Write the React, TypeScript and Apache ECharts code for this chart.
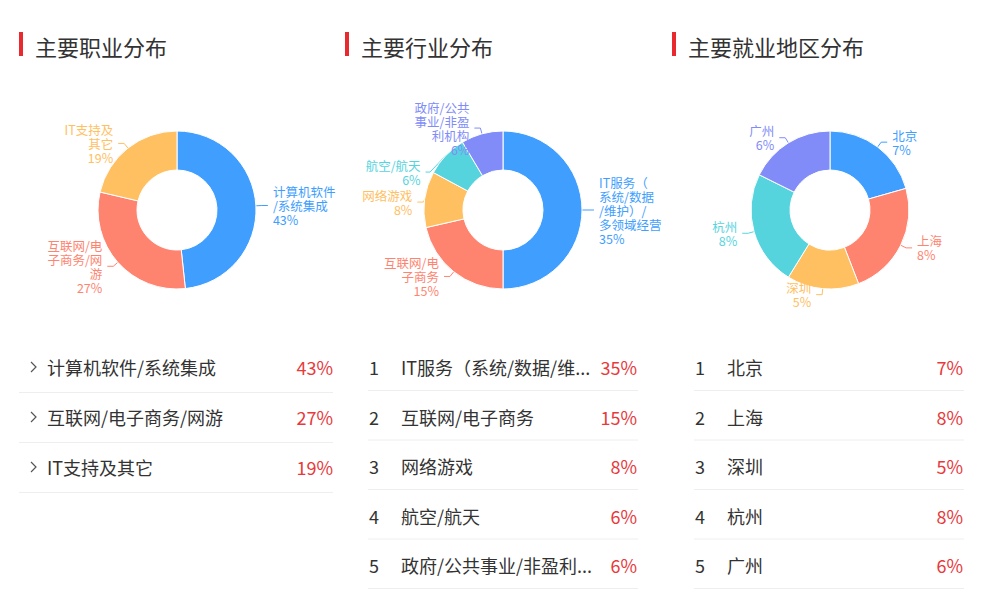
import React, { useEffect, useRef } from "react";
import * as echarts from "echarts";

const COLORS = ["#409EFF", "#FF8470", "#FFC062", "#56D4DE", "#818CF8"];
const FONT = "'Microsoft YaHei', 'Noto Sans CJK SC', sans-serif";

const titles = ["主要职业分布", "主要行业分布", "主要就业地区分布"];

const jobNames = ["计算机软件/系统集成", "互联网/电子商务/网游", "IT支持及其它"];
const jobValues = [43, 27, 19];

const industryNames = ["IT服务（系统/数据/维护）/多领域经营", "互联网/电子商务", "网络游戏", "航空/航天", "政府/公共事业/非盈利机构"];
const industryListLabels = ["IT服务（系统/数据/维...", "互联网/电子商务", "网络游戏", "航空/航天", "政府/公共事业/非盈利..."];
const industryValues = [35, 15, 8, 6, 6];

const cityNames = ["北京", "上海", "深圳", "杭州", "广州"];
const cityValues = [7, 8, 5, 8, 6];

const panelX = [19, 345, 672];
const pieCenters: [number, number][] = [[177, 210], [503, 210], [830, 210]];

function chunk5(s: string) {
  const chars = Array.from(s);
  const out: string[] = [];
  for (let i = 0; i < chars.length; i += 5) out.push(chars.slice(i, i + 5).join(""));
  return out.join("\n");
}

function pieSeries(names: string[], values: number[], center: [number, number]) {
  return {
    type: "pie",
    center,
    radius: [40, 79],
    startAngle: 90,
    clockwise: true,
    avoidLabelOverlap: true,
    itemStyle: { borderColor: "#fff", borderWidth: 1 },
    label: {
      show: true,
      formatter: (p: any) => chunk5(p.name) + "\n" + p.value + "%",
      fontSize: 12.5,
      lineHeight: 14,
      fontFamily: FONT,
    },
    labelLine: { show: true, length: 6, length2: 6, lineStyle: { width: 1 } },
    data: names.map((n, i) => ({
      name: n,
      value: values[i],
      itemStyle: { color: COLORS[i] },
      label: { color: COLORS[i] },
      labelLine: { lineStyle: { color: COLORS[i] } },
    })),
  };
}

function buildGraphics() {
  const g: any[] = [];
  titles.forEach((t, i) => {
    g.push({ type: "rect", shape: { x: panelX[i], y: 32, width: 4, height: 24 }, style: { fill: "#E8292D" } });
    g.push({
      type: "text",
      x: panelX[i] + 16,
      y: 46,
      style: { text: t, fontSize: 22, fill: "#333", fontFamily: FONT, verticalAlign: "middle", textAlign: "left" },
    });
  });

  const l1Left = 19, l1Right = 333;
  jobNames.forEach((n, i) => {
    const cy = 367 + i * 50;
    g.push({
      type: "polyline",
      shape: { points: [[31, cy - 5], [36, cy], [31, cy + 5]] },
      style: { stroke: "#555", lineWidth: 1.2, fill: "none" },
    });
    g.push({ type: "text", x: 47, y: cy, style: { text: n, fontSize: 18, fill: "#333", fontFamily: FONT, verticalAlign: "middle" } });
    g.push({ type: "text", x: l1Right, y: cy, style: { text: jobValues[i] + "%", fontSize: 18, fill: "#E8393C", fontFamily: FONT, verticalAlign: "middle", textAlign: "right" } });
    g.push({ type: "line", shape: { x1: l1Left, y1: cy + 25.5, x2: l1Right, y2: cy + 25.5 }, style: { stroke: "#EEEEEE", lineWidth: 1 } });
  });

  const lists: [number, number, string[], number[]][] = [
    [368, 637, industryListLabels, industryValues],
    [694, 963, cityNames, cityValues],
  ];
  lists.forEach(([left, right, names, vals]) => {
    names.forEach((n, i) => {
      const cy = 367 + i * 49.5;
      g.push({ type: "text", x: left + 1, y: cy, style: { text: String(i + 1), fontSize: 18, fill: "#333", fontFamily: FONT, verticalAlign: "middle" } });
      g.push({ type: "text", x: left + 33, y: cy, style: { text: n, fontSize: 18, fill: "#333", fontFamily: FONT, verticalAlign: "middle" } });
      g.push({ type: "text", x: right, y: cy, style: { text: vals[i] + "%", fontSize: 18, fill: "#E8393C", fontFamily: FONT, verticalAlign: "middle", textAlign: "right" } });
      g.push({ type: "line", shape: { x1: left, y1: cy + 23.5, x2: right + 1, y2: cy + 23.5 }, style: { stroke: "#EEEEEE", lineWidth: 1 } });
    });
  });
  return g;
}

export default function App() {
  const ref = useRef<HTMLDivElement>(null);
  useEffect(() => {
    if (!ref.current) return;
    const chart = echarts.init(ref.current, undefined, { renderer: "svg" });
    chart.setOption({
      animation: false,
      backgroundColor: "#fff",
      series: [
        pieSeries(jobNames, jobValues, pieCenters[0]),
        pieSeries(industryNames, industryValues, pieCenters[1]),
        pieSeries(cityNames, cityValues, pieCenters[2]),
      ],
      graphic: buildGraphics(),
    });
    return () => chart.dispose();
  }, []);
  return <div ref={ref} style={{ position: "fixed", left: 0, top: 0, width: 1002, height: 604 }} />;
}
